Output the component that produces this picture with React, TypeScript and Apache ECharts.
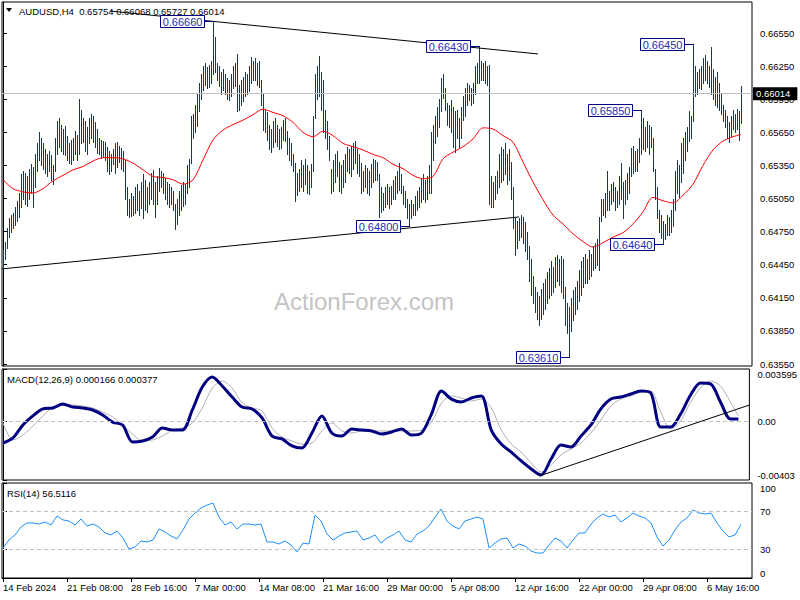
import { useEffect, useRef } from "react";
import * as echarts from "echarts";

// ---------- data ----------
const SYMBOL = "AUDUSD,H4";
const LAST_OHLC = [0.65754, 0.66068, 0.65727, 0.66014];
const MACD_NAME = "MACD(12,26,9)";
const MACD_LAST = [0.000166, 0.000377];
const RSI_NAME = "RSI(14)";
const RSI_LAST = 56.5116;
const WATERMARK = "ActionForex.com";

// H4 bar highs / lows in pips (1e-4), bar index 0..369
const HIGH_PIPS = [
  6458, 6466, 6478, 6487, 6490, 6492, 6497, 6503, 6510, 6527,
  6530, 6528, 6525, 6532, 6536, 6534, 6545, 6555, 6565, 6560,
  6555, 6550, 6545, 6548, 6544, 6535, 6560, 6575, 6578, 6572,
  6568, 6571, 6562, 6555, 6558, 6560, 6566, 6563, 6595, 6585,
  6578, 6575, 6570, 6578, 6582, 6580, 6574, 6568, 6560, 6558,
  6557, 6556, 6552, 6548, 6545, 6550, 6555, 6556, 6553, 6551,
  6548, 6540, 6515, 6505, 6510, 6507, 6515, 6518, 6512, 6520,
  6527, 6522, 6515, 6520, 6528, 6531, 6520, 6525, 6533, 6530,
  6528, 6524, 6520, 6518, 6515, 6512, 6500, 6505, 6512, 6517,
  6520, 6518, 6535, 6541, 6580, 6582, 6590, 6600, 6610, 6618,
  6625, 6628, 6624, 6626, 6630, 6666, 6651, 6628, 6625, 6620,
  6622, 6618, 6614, 6612, 6618, 6625, 6628, 6636, 6608, 6612,
  6615, 6620, 6618, 6625, 6633, 6630, 6632, 6628, 6630, 6612,
  6600, 6585, 6583, 6572, 6568, 6575, 6578, 6572, 6568, 6570,
  6576, 6578, 6566, 6560, 6555, 6545, 6537, 6528, 6532, 6540,
  6535, 6541, 6535, 6530, 6536, 6580, 6618, 6625, 6634, 6620,
  6612, 6585, 6575, 6562, 6532, 6540, 6545, 6548, 6538, 6535,
  6540, 6545, 6552, 6550, 6553, 6555, 6557, 6550, 6545, 6537,
  6530, 6535, 6533, 6530, 6536, 6541, 6540, 6538, 6527, 6515,
  6510, 6515, 6518, 6515, 6516, 6522, 6525, 6530, 6537, 6527,
  6516, 6512, 6505, 6500, 6504, 6500, 6507, 6512, 6515, 6524,
  6527, 6522, 6525, 6535, 6565, 6572, 6580, 6588, 6595, 6614,
  6618, 6605, 6592, 6590, 6594, 6588, 6584, 6585, 6578, 6588,
  6598, 6605, 6610, 6608, 6605, 6610, 6625, 6628, 6643, 6630,
  6628, 6630, 6625, 6626, 6525, 6520, 6525, 6530, 6545, 6552,
  6550, 6555, 6545, 6550, 6538, 6515, 6487, 6485, 6487, 6490,
  6488, 6484, 6475, 6462, 6450, 6435, 6425, 6420, 6417, 6423,
  6428, 6432, 6438, 6442, 6448, 6443, 6452, 6454, 6450, 6453,
  6450, 6425, 6410, 6407, 6415, 6422, 6425, 6430, 6440, 6448,
  6452, 6455, 6450, 6458, 6455, 6462, 6465, 6468, 6488, 6505,
  6505, 6510, 6530, 6512, 6518, 6520, 6515, 6512, 6525, 6537,
  6520, 6522, 6528, 6534, 6551, 6553, 6548, 6550, 6560, 6585,
  6578, 6570, 6575, 6572, 6570, 6560, 6532, 6515, 6495, 6490,
  6485, 6482, 6490, 6488, 6495, 6505, 6530, 6540, 6535, 6555,
  6560, 6565, 6570, 6584, 6580, 6645, 6625, 6620, 6622, 6625,
  6632, 6635, 6630, 6625, 6642, 6622, 6615, 6620, 6610, 6600,
  6590, 6585, 6580, 6574, 6580, 6585, 6582, 6586, 6584, 6607,
];
const LOW_PIPS = [
  6441, 6450, 6460, 6470, 6475, 6478, 6481, 6485, 6488, 6497,
  6505, 6500, 6498, 6505, 6510, 6497, 6515, 6530, 6540, 6535,
  6532, 6528, 6525, 6530, 6522, 6518, 6530, 6545, 6552, 6548,
  6545, 6544, 6540, 6537, 6536, 6540, 6545, 6540, 6545, 6555,
  6556, 6548, 6545, 6555, 6560, 6556, 6552, 6546, 6545, 6542,
  6543, 6540, 6530, 6527, 6530, 6536, 6528, 6534, 6538, 6532,
  6530, 6505, 6490, 6488, 6489, 6490, 6492, 6495, 6490, 6496,
  6487, 6495, 6493, 6500, 6505, 6500, 6488, 6500, 6512, 6515,
  6510, 6505, 6500, 6497, 6500, 6495, 6477, 6482, 6490, 6495,
  6498, 6500, 6510, 6515, 6537, 6560, 6565, 6571, 6584, 6595,
  6603, 6608, 6605, 6606, 6610, 6618, 6620, 6612, 6607, 6600,
  6603, 6600, 6595, 6594, 6598, 6605, 6607, 6584, 6585, 6590,
  6593, 6598, 6600, 6602, 6610, 6612, 6612, 6608, 6606, 6590,
  6567, 6565, 6558, 6550, 6547, 6552, 6556, 6553, 6550, 6551,
  6558, 6557, 6545, 6540, 6535, 6530, 6503, 6508, 6512, 6515,
  6512, 6518, 6510, 6509, 6515, 6530, 6578, 6595, 6598, 6585,
  6565, 6560, 6550, 6540, 6510, 6512, 6520, 6525, 6512, 6510,
  6515, 6520, 6530, 6528, 6525, 6532, 6537, 6528, 6525, 6510,
  6512, 6515, 6510, 6508, 6515, 6520, 6522, 6522, 6488, 6493,
  6495, 6497, 6500, 6496, 6500, 6505, 6505, 6510, 6513, 6510,
  6500, 6497, 6487, 6480, 6487, 6490, 6490, 6495, 6497, 6502,
  6505, 6502, 6505, 6510, 6510, 6540, 6555, 6562, 6570, 6584,
  6596, 6585, 6572, 6570, 6565, 6552, 6547, 6560, 6552, 6560,
  6576, 6580, 6590, 6594, 6590, 6592, 6600, 6610, 6610, 6612,
  6612, 6610, 6608, 6500, 6497, 6497, 6505, 6510, 6515, 6520,
  6522, 6527, 6518, 6522, 6505, 6478, 6454, 6460, 6467, 6470,
  6465, 6457, 6450, 6430, 6418, 6410, 6402, 6396, 6390, 6396,
  6400, 6405, 6410, 6415, 6418, 6420, 6425, 6430, 6427, 6420,
  6415, 6390, 6383, 6361, 6385, 6395, 6400, 6405, 6412, 6418,
  6425, 6428, 6428, 6432, 6435, 6440, 6442, 6445, 6440, 6485,
  6490, 6488, 6495, 6495, 6500, 6503, 6495, 6497, 6500, 6505,
  6487, 6500, 6505, 6510, 6525, 6528, 6530, 6530, 6538, 6545,
  6550, 6548, 6552, 6545, 6552, 6530, 6505, 6487, 6475, 6469,
  6464, 6468, 6472, 6472, 6475, 6480, 6495, 6510, 6506, 6520,
  6528, 6540, 6548, 6557, 6560, 6575, 6598, 6600, 6605, 6604,
  6610, 6612, 6610, 6606, 6600, 6595, 6590, 6588, 6585, 6582,
  6575, 6570, 6560, 6556, 6562, 6568, 6565, 6568, 6558, 6573,
];

// moving average (red), one reading every 5 bars (last = final bar), pips
const MA_STEP = 5;
const MA_PIPS = [
  6522, 6514, 6511, 6510, 6514, 6521, 6526, 6531, 6534, 6539,
  6542, 6542, 6541, 6537, 6531, 6525, 6524, 6522, 6518, 6522,
  6540, 6558, 6567, 6572, 6576, 6581, 6586, 6583, 6580, 6574,
  6565, 6561, 6566, 6562, 6555, 6552, 6549, 6545, 6542, 6536,
  6532, 6526, 6523, 6525, 6541, 6547, 6552, 6559, 6569, 6568,
  6562, 6556, 6538, 6520, 6504, 6490, 6482, 6473, 6466, 6461,
  6465, 6470, 6474, 6482, 6493, 6506, 6503, 6501, 6508, 6518,
  6535, 6549, 6557, 6561, 6563,
];

// MACD main / signal, one reading every 5 bars
const MACD_STEP = 5;
const MACD_MAIN = [
  -0.00149, -0.00114, -0.00025, 0.00037, 0.00085, 0.00092, 0.00119, 0.00098, 0.00092, 0.00078,
  0.00044, -0.00005, -0.00025, -0.00142, -0.00135, -0.00108, -0.00046, -0.0006, -0.0006, 0.00078,
  0.00236, 0.00305, 0.00243, 0.00167, 0.00098, 0.00085, 0.00023, -0.00101, -0.00121, -0.00169,
  -0.00183, -0.0008, 0.00037, -0.0008, -0.00101, -0.00053, -0.0006, -0.00066, -0.00087, -0.00073,
  -0.00053, -0.00094, -0.0008, 0.0005, 0.00208, 0.00153, 0.00133, 0.0016, 0.00174, -0.0006,
  -0.00156, -0.00211, -0.00272, -0.00327, -0.00369, -0.00259, -0.00163, -0.00176, -0.00101, -0.00025,
  0.00085, 0.00153, 0.00167, 0.00188, 0.00208, 0.00195, -0.00039, -0.00039, 0.0005, 0.00181,
  0.00263, 0.00257, 0.00133, 0.00016, 0.000166,
];
const MACD_SIGNAL = [
  -0.00011, -0.00128, -0.00094, -0.00032, 0.00037, 0.00098, 0.00112, 0.00112, 0.00105, 0.00092,
  0.00064, 0.0003, -0.00025, -0.00087, -0.00135, -0.00128, -0.00101, -0.0006, -0.00046, -0.00011,
  0.00092, 0.00229, 0.00277, 0.00229, 0.00126, 0.00092, 0.00071, -0.00046, -0.00108, -0.00135,
  -0.00156, -0.00149, -0.00066, -0.00011, -0.00066, -0.0008, -0.00066, -0.00066, -0.00066, -0.00066,
  -0.00066, -0.00066, -0.0006, -0.00005, 0.00126, 0.00174, 0.0016, 0.0014, 0.00153, 0.00092,
  -0.0006, -0.00156, -0.00211, -0.00286, -0.00348, -0.003, -0.00231, -0.0019, -0.00149, -0.0008,
  0.00009, 0.00105, 0.00153, 0.00174, 0.00202, 0.00208, 0.00064, -0.00053, 0.00002, 0.00133,
  0.00229, 0.00277, 0.00243, 0.00133, 0.000377,
];

// RSI(14), one reading every 3 bars
const RSI_STEP = 3;
const RSI_VALUES = [
  31.6, 40.0, 45.3, 53.7, 57.9, 57.9, 56.8, 58.9, 55.8, 65.3,
  61.1, 60.0, 55.8, 62.1, 54.7, 56.8, 53.7, 47.4, 45.3, 49.5,
  42.1, 30.5, 32.6, 38.9, 37.9, 40.0, 51.6, 48.4, 44.2, 41.1,
  50.5, 62.1, 68.4, 73.7, 76.8, 78.9, 64.2, 55.8, 58.9, 51.6,
  56.8, 56.8, 55.8, 56.8, 37.9, 37.9, 35.8, 38.9, 34.7, 27.4,
  36.8, 35.8, 66.3, 60.0, 46.3, 40.0, 44.2, 47.4, 48.4, 49.5,
  40.0, 42.1, 45.3, 36.8, 42.1, 45.3, 49.5, 40.0, 37.9, 46.3,
  49.5, 54.7, 64.2, 72.6, 60.0, 54.7, 51.6, 60.0, 62.1, 64.2,
  62.1, 31.6, 36.8, 41.1, 42.1, 31.6, 35.8, 33.7, 28.4, 26.3,
  26.3, 34.7, 42.1, 38.9, 31.6, 40.0, 47.4, 47.4, 56.8, 63.2,
  67.4, 64.2, 66.3, 58.9, 63.2, 68.4, 65.3, 63.2, 57.9, 43.2,
  33.7, 40.0, 50.5, 58.9, 63.2, 71.6, 68.4, 67.4, 68.4, 57.9,
  49.5, 43.2, 45.3, 56.5116,
];

// time axis
const TIME_INDEX = [0, 32, 64, 96, 128, 160, 192, 224, 256, 288, 320, 352];
const TIME_LABELS = [
  "14 Feb 2024", "21 Feb 08:00", "28 Feb 16:00", "7 Mar 00:00", "14 Mar 08:00", "21 Mar 16:00",
  "29 Mar 00:00", "5 Apr 08:00", "12 Apr 16:00", "22 Apr 00:00", "29 Apr 08:00", "6 May 16:00",
];

// price scale
const PRICE_RANGE = [0.63532, 0.66831];
const PRICE_TICKS = [0.6355, 0.6385, 0.6415, 0.6445, 0.6475, 0.6505, 0.6535, 0.6565, 0.6595, 0.6625, 0.6655];
const MACD_TICKS = [-0.00403, 0, 0.003595];
const MACD_TICK_TEXT = ["-0.00403", "0.00", "0.003595"];
const RSI_TICKS = [0, 30, 70, 100];
const RSI_LEVELS = [30, 70];

// marked highs / lows: [bar index, price]
const PEAKS = [
  [105, 0.6666], [238, 0.6643], [203, 0.648], [283, 0.6361],
  [319, 0.6585], [330, 0.6464], [345, 0.6645],
];
// drawn trend lines: [[bar, price], [bar, price]]
const TRENDLINES = [
  [[53.5, 0.66749], [267.5, 0.6636]],
  [[-0.5, 0.64412], [258, 0.64883]],
];
const MACD_TRENDLINE = [[269, -0.003755], [374.5, 0.001122]];

// ---------- chart ----------
const FONT = "Liberation Sans";
const AXIS_FONT = 9.5;
const BAR_COLOR = "#1a3855";
const X_RANGE = [-0.5, 374.5];

function buildOption() {
  const n = HIGH_PIPS.length;
  const sampleIdx = (k: number, step: number) => Math.min(k * step, n - 1);
  const bars = HIGH_PIPS.map((h, i) => [i, h / 1e4, LOW_PIPS[i] / 1e4]);
  const ma = MA_PIPS.map((v, k) => [sampleIdx(k, MA_STEP), v / 1e4]);
  const macdMain = MACD_MAIN.map((v, k) => [sampleIdx(k, MACD_STEP), v]);
  const macdSig = MACD_SIGNAL.map((v, k) => [sampleIdx(k, MACD_STEP), v]);
  const rsi = RSI_VALUES.map((v, k) => [sampleIdx(k, RSI_STEP), v]);
  const lastClose = LAST_OHLC[3];

  const labelStyle = { color: "#000", fontFamily: FONT, fontSize: AXIS_FONT };

  const xAxisBase = (gridIndex: number) => ({
    type: "value",
    gridIndex,
    min: X_RANGE[0],
    max: X_RANGE[1],
    axisLine: { show: false },
    axisTick: { show: false },
    axisLabel: { show: false },
    splitLine: { show: false },
  });

  const nearestText = (vals: number[], texts: string[]) => (v: number) => {
    let best = 0;
    vals.forEach((t, k) => {
      if (Math.abs(t - v) < Math.abs(vals[best] - v)) best = k;
    });
    return texts[best];
  };

  const yAxisBase = (
    gridIndex: number,
    min: number,
    max: number,
    ticks: number[],
    fmt: (v: number) => string,
    edgeAlign: boolean
  ) => ({
    type: "value",
    gridIndex,
    position: "right",
    min,
    max,
    axisLine: { show: true, lineStyle: { color: "#000", width: 1 } },
    axisTick: { show: true, customValues: ticks, length: 4, lineStyle: { color: "#000" } },
    axisLabel: {
      show: true,
      customValues: ticks,
      formatter: fmt,
      margin: 8,
      ...(edgeAlign ? { verticalAlignMinLabel: "bottom", verticalAlignMaxLabel: "top" } : {}),
      ...labelStyle,
    },
    splitLine: { show: false },
  });

  return {
    animation: false,
    backgroundColor: "#fff",
    textStyle: { fontFamily: FONT },
    grid: [
      { left: 2, top: 2, width: 750, height: 364, show: true, borderColor: "#000", borderWidth: 1 },
      { left: 2, top: 369, width: 750, height: 111, show: true, borderColor: "#000", borderWidth: 1 },
      { left: 2, top: 483, width: 750, height: 95, show: true, borderColor: "#000", borderWidth: 1 },
    ],
    xAxis: [
      xAxisBase(0),
      xAxisBase(1),
      {
        ...xAxisBase(2),
        axisLine: { show: true, lineStyle: { color: "#000" } },
        axisTick: { show: true, customValues: TIME_INDEX, length: 4, lineStyle: { color: "#000" } },
        axisLabel: {
          show: true,
          customValues: TIME_INDEX,
          formatter: nearestText(TIME_INDEX, TIME_LABELS),
          align: "left",
          margin: 4,
          ...labelStyle,
        },
      },
    ],
    yAxis: [
      yAxisBase(0, PRICE_RANGE[0], PRICE_RANGE[1], PRICE_TICKS, (v: number) => v.toFixed(5), false),
      yAxisBase(1, MACD_TICKS[0], MACD_TICKS[2], MACD_TICKS, nearestText(MACD_TICKS, MACD_TICK_TEXT), true),
      yAxisBase(2, RSI_TICKS[0], RSI_TICKS[3], RSI_TICKS, (v: number) => String(Math.round(v)), true),
    ],
    graphic: [
      {
        type: "polygon",
        shape: { points: [[6, 8], [12, 8], [9, 12]] },
        style: { fill: "#000" },
      },
      {
        type: "text",
        x: 19,
        y: 11,
        style: {
          text: `${SYMBOL}  ${LAST_OHLC.map((v) => v.toFixed(5)).join(" ")}`,
          fill: "#000",
          fontFamily: FONT,
          fontSize: AXIS_FONT,
          verticalAlign: "middle",
        },
      },
      {
        type: "text",
        x: 7,
        y: 379,
        style: {
          text: `${MACD_NAME} ${MACD_LAST.map((v) => v.toFixed(6)).join(" ")}`,
          fill: "#000",
          fontFamily: FONT,
          fontSize: AXIS_FONT,
          verticalAlign: "middle",
        },
      },
      {
        type: "text",
        x: 7,
        y: 493,
        style: {
          text: `${RSI_NAME} ${RSI_LAST.toFixed(4)}`,
          fill: "#000",
          fontFamily: FONT,
          fontSize: AXIS_FONT,
          verticalAlign: "middle",
        },
      },
      {
        type: "text",
        x: 364,
        y: 301,
        style: {
          text: WATERMARK,
          fill: "#c4c4c4",
          fontFamily: FONT,
          fontSize: 24,
          align: "center",
          verticalAlign: "middle",
        },
      },
    ],
    series: [
      {
        name: "last",
        type: "line",
        xAxisIndex: 0,
        yAxisIndex: 0,
        data: [[n - 1, lastClose]],
        symbol: "none",
        lineStyle: { opacity: 0 },
        z: 1,
        markLine: {
          silent: true,
          symbol: ["none", "none"],
          lineStyle: { color: "#c0c0c0", type: "solid", width: 1 },
          label: {
            show: true,
            position: "end",
            distance: 1,
            formatter: lastClose.toFixed(5),
            color: "#fff",
            backgroundColor: "#000",
            padding: [2, 7, 1, 3],
            fontFamily: FONT,
            fontSize: AXIS_FONT,
          },
          data: [{ yAxis: lastClose }],
        },
      },
      {
        name: "bars",
        type: "custom",
        xAxisIndex: 0,
        yAxisIndex: 0,
        z: 2,
        data: bars,
        encode: { x: 0, y: [1, 2] },
        renderItem: (_params: any, api: any) => {
          const i = api.value(0);
          const hi = api.coord([i, api.value(1)]);
          const lo = api.coord([i, api.value(2)]);
          const x = Math.round(hi[0]) + 0.5;
          return {
            type: "line",
            shape: { x1: x, y1: Math.round(hi[1]), x2: x, y2: Math.round(lo[1]) + 1 },
            style: { stroke: BAR_COLOR, lineWidth: 1 },
          };
        },
      },
      {
        name: "ma",
        type: "line",
        xAxisIndex: 0,
        yAxisIndex: 0,
        z: 3,
        data: ma,
        showSymbol: false,
        smooth: 0.3,
        lineStyle: { color: "#ff0000", width: 1 },
      },
      ...TRENDLINES.map((t, k) => ({
        name: `trend${k}`,
        type: "line",
        xAxisIndex: 0,
        yAxisIndex: 0,
        z: 4,
        data: t,
        showSymbol: false,
        lineStyle: { color: "#000", width: 1 },
      })),
      {
        name: "peaks",
        type: "custom",
        xAxisIndex: 0,
        yAxisIndex: 0,
        z: 5,
        data: PEAKS,
        encode: { x: 0, y: 1 },
        renderItem: (_params: any, api: any) => {
          const p = api.coord([api.value(0), api.value(1)]);
          const bx = Math.round(p[0]);
          const cy = Math.round(p[1]);
          const right = bx - 9;
          const w = 44;
          const h = 12;
          return {
            type: "group",
            children: [
              {
                type: "line",
                shape: { x1: right, y1: cy + 0.5, x2: bx + 1, y2: cy + 0.5 },
                style: { stroke: "#000080", lineWidth: 1 },
              },
              {
                type: "rect",
                shape: { x: right - w + 0.5, y: cy - 6 + 0.5, width: w, height: h },
                style: { fill: "#fff", stroke: "#000080", lineWidth: 1 },
              },
              {
                type: "text",
                x: right - w / 2 + 0.5,
                y: cy + 1,
                style: {
                  text: Number(api.value(1)).toFixed(5),
                  fill: "#2a2ab8",
                  fontFamily: FONT,
                  fontSize: 11,
                  align: "center",
                  verticalAlign: "middle",
                },
              },
            ],
          };
        },
      },
      {
        name: "signal",
        type: "line",
        xAxisIndex: 1,
        yAxisIndex: 1,
        z: 2,
        data: macdSig,
        showSymbol: false,
        smooth: 0.3,
        lineStyle: { color: "#b0b0b0", width: 1 },
        markLine: {
          silent: true,
          symbol: ["none", "none"],
          label: { show: false },
          lineStyle: { color: "#c0c0c0", type: [4, 3], width: 1 },
          data: [{ yAxis: 0 }],
        },
      },
      {
        name: "macd",
        type: "line",
        xAxisIndex: 1,
        yAxisIndex: 1,
        z: 3,
        data: macdMain,
        showSymbol: false,
        smooth: 0.3,
        lineStyle: { color: "#000080", width: 3 },
      },
      {
        name: "macdTrend",
        type: "line",
        xAxisIndex: 1,
        yAxisIndex: 1,
        z: 4,
        data: MACD_TRENDLINE,
        showSymbol: false,
        lineStyle: { color: "#000", width: 1 },
      },
      {
        name: "rsi",
        type: "line",
        xAxisIndex: 2,
        yAxisIndex: 2,
        z: 3,
        data: rsi,
        showSymbol: false,
        lineStyle: { color: "#1e90ff", width: 1 },
        markLine: {
          silent: true,
          symbol: ["none", "none"],
          label: { show: false },
          lineStyle: { color: "#c0c0c0", type: [4, 3], width: 1 },
          data: RSI_LEVELS.map((v) => ({ yAxis: v })),
        },
      },
    ],
  };
}

export default function App() {
  const ref = useRef<HTMLDivElement>(null);
  useEffect(() => {
    if (!ref.current) return;
    const chart = echarts.init(ref.current, null, { renderer: "svg" });
    chart.setOption(buildOption() as any);
    return () => chart.dispose();
  }, []);
  return (
    <div
      ref={ref}
      style={{ position: "absolute", left: 0, top: 0, width: 800, height: 600, background: "#fff" }}
    />
  );
}
